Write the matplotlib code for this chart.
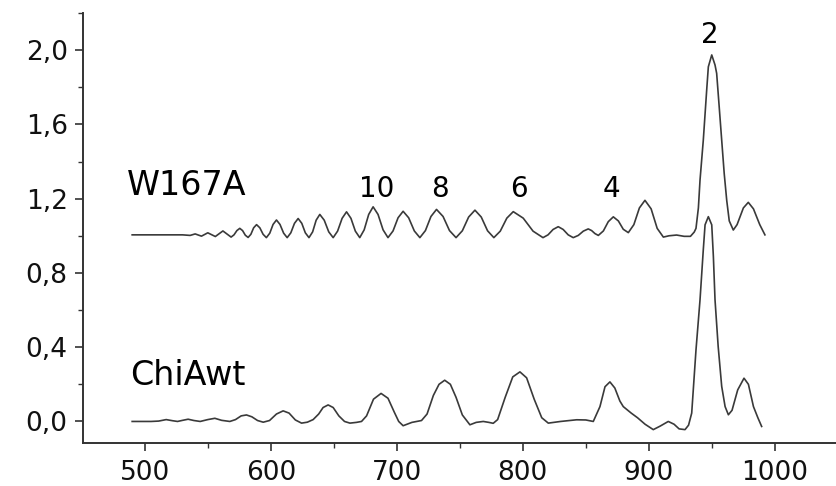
import matplotlib
matplotlib.use("Agg")
import matplotlib.pyplot as plt
from matplotlib.ticker import MultipleLocator, FuncFormatter

plt.rcParams['font.family'] = ['DejaVu Sans']

# W167A spectrum (offset by +1), wavelength vs signal
w167a_x = [490, 510, 530, 536, 540, 545, 550, 556, 562, 568.5,
           570.8, 573.1, 575.4, 577.6, 579.8, 582, 584.2, 586.4, 588.7, 591.3,
           593.9, 596.5, 599.2, 601.8, 604.5, 607.3, 610.2, 613, 615.9, 618.8,
           621.7, 624.6, 627.4, 630.3, 633.2, 636.0, 638.9, 642.4, 646, 649.5,
           653, 656.6, 660.1, 663.6, 667.1, 670.6, 674.1, 677.7, 681.2, 685.1,
           689.1, 693, 697, 701, 705, 709.4, 713.9, 718.3, 722.7, 727.1,
           731.5, 736.7, 741.8, 747, 752, 757, 762, 767, 772, 777,
           782.1, 787.3, 792.4, 800.3, 808.1, 816, 820, 824, 828.1, 832,
           836, 840, 844, 848, 851.9, 854.6, 857.2, 859.9, 863.9, 867.8,
           871.8, 875.8, 879.7, 883.7, 888.1, 892.5, 896.9, 901.8, 906.6, 911.5,
           916, 922, 928, 933, 936, 937.4, 939.3, 940.6, 943.2, 945.9,
           947.2, 949.9, 952.5, 953.8, 955.8, 957.8, 959.8, 961.8, 963.8, 967,
           970, 975, 978.9, 983, 988, 992.1]
w167a_y = [1.005, 1.005, 1.005, 1.002, 1.010, 0.998, 1.016, 0.996, 1.026, 0.993,
           1.005, 1.028, 1.040, 1.028, 1.003, 0.991, 1.008, 1.043, 1.060, 1.043,
           1.008, 0.990, 1.014, 1.061, 1.085, 1.061, 1.014, 0.990, 1.016, 1.067,
           1.093, 1.067, 1.016, 0.990, 1.021, 1.084, 1.115, 1.084, 1.021, 0.990,
           1.025, 1.094, 1.129, 1.094, 1.025, 0.990, 1.032, 1.115, 1.156, 1.115,
           1.032, 0.990, 1.026, 1.097, 1.132, 1.097, 1.026, 0.990, 1.028, 1.104,
           1.142, 1.104, 1.028, 0.990, 1.027, 1.101, 1.138, 1.101, 1.027, 0.990,
           1.025, 1.095, 1.130, 1.095, 1.025, 0.990, 1.005, 1.034, 1.049, 1.034,
           1.005, 0.990, 1.002, 1.025, 1.037, 1.028, 1.012, 1.002, 1.026, 1.076,
           1.102, 1.080, 1.035, 1.017, 1.060, 1.150, 1.191, 1.145, 1.040, 0.993,
           1.000, 1.004, 0.997, 0.997, 1.020, 1.040, 1.150, 1.300, 1.515, 1.786,
           1.910, 1.974, 1.920, 1.875, 1.696, 1.515, 1.335, 1.190, 1.080, 1.031,
           1.060, 1.150, 1.180, 1.145, 1.060, 1.005]

# ChiAwt spectrum
chiawt_x = [490, 505, 511, 517, 522, 526, 530, 534.4, 539, 544,
            550, 555.6, 561, 567.5, 572, 576.5, 580.7, 585, 589.5, 594,
            599, 604.5, 609.8, 614.5, 619.5, 624.4, 629, 633.6, 638, 641.5,
            645.5, 649.5, 654, 658.5, 662.8, 668, 672, 676, 681.5, 687.5,
            693, 698, 701.5, 705, 712, 719.6, 724, 729, 733.5, 738,
            742.5, 747, 752, 758, 763, 768.6, 773, 776.5, 780, 786,
            792, 797.7, 803, 809, 815, 820.2, 830, 842.7, 850, 855.9,
            861.2, 865.2, 869.1, 873, 877, 879.7, 886, 891, 897, 903.5,
            909, 915.4, 920, 924, 928.7, 931.5, 934, 937.4, 940.6, 943.2,
            944.6, 947.2, 949.9, 951.2, 952.5, 955, 957.8, 960.5, 963.1, 966,
            970.5, 975.5, 979, 983, 986.5, 989.5]
chiawt_y = [0.000, 0.000, 0.002, 0.010, 0.004, 0.000, 0.006, 0.012, 0.005, 0.000,
            0.010, 0.017, 0.006, 0.000, 0.010, 0.030, 0.035, 0.025, 0.005, -0.004,
            0.005, 0.040, 0.057, 0.045, 0.008, -0.009, -0.004, 0.010, 0.040, 0.075,
            0.089, 0.075, 0.030, 0.000, -0.009, -0.005, 0.000, 0.030, 0.120, 0.151,
            0.125, 0.050, 0.000, -0.023, -0.005, 0.005, 0.040, 0.140, 0.200, 0.222,
            0.200, 0.130, 0.035, -0.018, -0.005, 0.000, -0.005, -0.010, 0.010, 0.130,
            0.240, 0.267, 0.235, 0.120, 0.020, -0.009, 0.000, 0.009, 0.008, 0.000,
            0.080, 0.187, 0.213, 0.180, 0.110, 0.080, 0.045, 0.020, -0.015, -0.044,
            -0.025, 0.000, -0.015, -0.040, -0.044, -0.020, 0.045, 0.385, 0.655, 0.925,
            1.059, 1.103, 1.059, 0.888, 0.655, 0.404, 0.189, 0.080, 0.036, 0.060,
            0.170, 0.233, 0.200, 0.080, 0.020, -0.027]

# peak numbers above W167A
peak_labels = ['10', '8', '6', '4', '2']
peak_label_x = [684, 734.6, 797.2, 870.5, 948.5]
peak_label_y = [1.209, 1.209, 1.209, 1.209, 2.038]

fig = plt.figure(figsize=(8.36, 4.86), dpi=100)
ax = fig.add_axes([0.0993, 0.0885, 0.9007, 0.8848])

ax.plot(w167a_x, w167a_y, color='#3a3a3a', lw=1.2)
ax.plot(chiawt_x, chiawt_y, color='#3a3a3a', lw=1.2)

ax.text(485.5, 1.22, 'W167A', fontsize=24, va='baseline', ha='left')
ax.text(488, 0.197, 'ChiAwt', fontsize=24, va='baseline', ha='left')
for lab, lx, ly in zip(peak_labels, peak_label_x, peak_label_y):
    ax.text(lx, ly, lab, fontsize=20, va='baseline', ha='center')

ax.set_xlim(451, 1048.5)
ax.set_ylim(-0.116, 2.2)
ax.xaxis.set_major_locator(MultipleLocator(100))
ax.xaxis.set_minor_locator(MultipleLocator(50))
ax.yaxis.set_major_locator(MultipleLocator(0.4))
ax.yaxis.set_minor_locator(MultipleLocator(0.2))
ax.yaxis.set_major_formatter(FuncFormatter(lambda v, p: f'{v:.1f}'.replace('.', ',')))

ax.spines['top'].set_visible(False)
ax.spines['right'].set_visible(False)
for s in ['left', 'bottom']:
    ax.spines[s].set_linewidth(1.4)
    ax.spines[s].set_color('#333333')
ax.tick_params(which='major', direction='out', length=6, width=1.2,
               labelsize=19, colors='#333333', labelcolor='#111111')
ax.tick_params(which='minor', direction='out', length=3.5, width=1.0, colors='#333333')
ax.tick_params(axis='y', pad=5)
ax.tick_params(axis='x', pad=6)

fig.savefig('out.png', dpi=100)
